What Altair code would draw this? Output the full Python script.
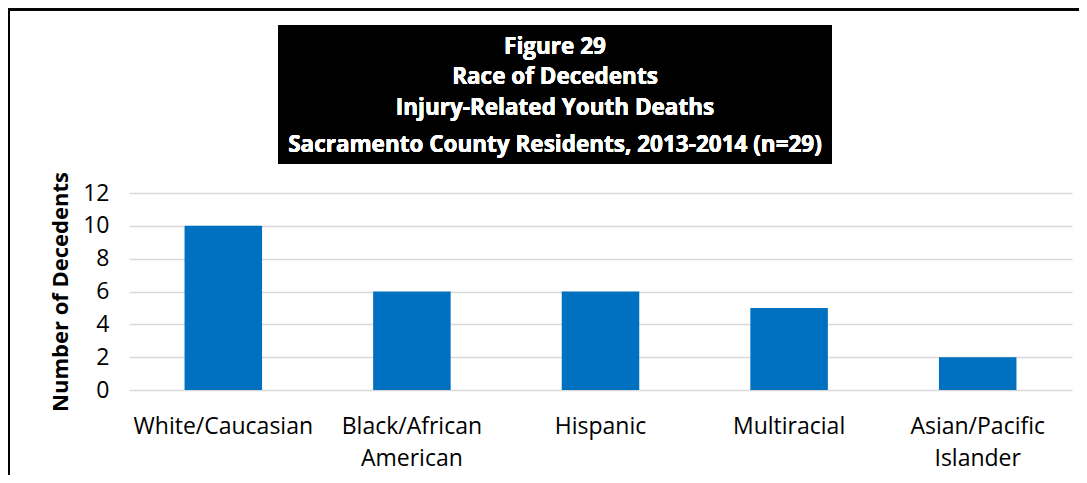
import altair as alt
import pandas as pd

categories = ["White/Caucasian", "Black/African\nAmerican", "Hispanic", "Multiracial", "Asian/Pacific\nIslander"]
counts = [10, 6, 6, 5, 2]
y_ticks = [0, 2, 4, 6, 8, 10, 12]
title_lines = [
    "Figure 29",
    "Race of Decedents",
    "Injury-Related Youth Deaths",
    "Sacramento County Residents, 2013-2014 (n=29)",
]
y_title = "Number of Decedents"

df = pd.DataFrame({"race": categories, "count": counts})

W, H = 943, 197
FONT = "Open Sans"

bars = alt.Chart(df).mark_bar(color="#0070C0").encode(
    x=alt.X(
        "race:N",
        sort=categories,
        title=None,
        scale=alt.Scale(paddingInner=0.589, paddingOuter=0.2945),
        axis=alt.Axis(
            labelAngle=0,
            labelExpr="split(datum.label, '\\n')",
            labelFont=FONT,
            labelFontSize=23,
            labelColor="#000000",
            labelPadding=25,
            labelLineHeight=32,
            domain=False,
            ticks=False,
        ),
    ),
    y=alt.Y(
        "count:Q",
        title=y_title,
        scale=alt.Scale(domain=[0, 12], nice=False),
        axis=alt.Axis(
            values=y_ticks,
            labelFont=FONT,
            labelFontSize=23,
            labelColor="#000000",
            labelPadding=20,
            titleFont=FONT,
            titleFontSize=22,
            titleFontWeight="bold",
            titleColor="#000000",
            titlePadding=10,
            domain=False,
            ticks=False,
            grid=True,
            gridColor="#D9D9D9",
            gridWidth=1.5,
        ),
    ),
)

border = alt.Chart(df).mark_rect(fill=None, stroke="#000000", strokeWidth=2, clip=False).encode(
    x=alt.value(-120), x2=alt.value(1000), y=alt.value(-183.5), y2=alt.value(400)
)

title_box = alt.Chart(df).mark_rect(color="#000000", clip=False).encode(
    x=alt.value(149), x2=alt.value(703), y=alt.value(-168), y2=alt.value(-29)
)

baselines = [-139, -109, -78, -41]
title_texts = [
    alt.Chart(df).mark_text(
        text=line, font=FONT, fontSize=22.5, fontWeight="bold", color="#FFFFFF",
        align="center", baseline="alphabetic", clip=False,
    ).encode(x=alt.value(426), y=alt.value(b))
    for line, b in zip(title_lines, baselines)
]

chart = alt.layer(border, bars, title_box, *title_texts).properties(
    width=W,
    height=H,
    autosize=alt.AutoSizeParams(type="none"),
    padding={"left": 121, "top": 185, "right": 7, "bottom": 85},
).configure_view(stroke=None)

chart.save("out.html", embed_options={"renderer": "svg", "actions": False})
